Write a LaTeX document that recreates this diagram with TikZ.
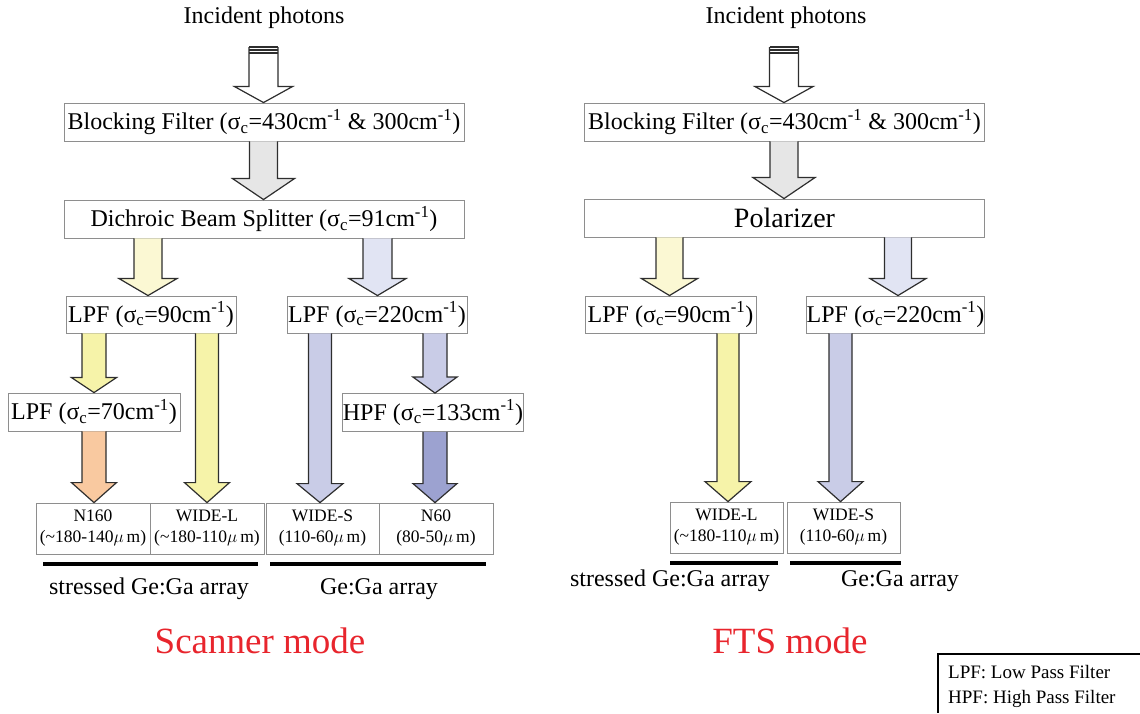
\documentclass[tikz,border=0pt]{standalone}
\usepackage{fontspec}
\setmainfont{Liberation Serif}
\usetikzlibrary{calc}
\definecolor{boxgray}{HTML}{8E8E8E}
\definecolor{arrline}{HTML}{2E2E2E}
\definecolor{grayfill}{HTML}{E6E6E6}
\definecolor{paleyel}{HTML}{FBF8D3}
\definecolor{midyel}{HTML}{F6F3A9}
\definecolor{paleblue}{HTML}{E1E4F3}
\definecolor{midblue}{HTML}{C9CCE7}
\definecolor{darkblue}{HTML}{9CA2D0}
\definecolor{orangefill}{HTML}{F9C9A0}
\definecolor{modered}{HTML}{E8252D}
\newcommand\sigc{σ\textsubscript{c}}
\newcommand\icm{cm\textsuperscript{-1}}
\newcommand\umic{$\mu$\,m}
% block arrow: style, x, from, to, half shaft, half head, head length
\newcommand\barrow[7]{\path[#1] let \p1=(#3), \p2=(#4) in
  (#2-#5,\y1) -- (#2-#5,\y2+#7) -- (#2-#6,\y2+#7) -- (#2,\y2)
  -- (#2+#6,\y2+#7) -- (#2+#5,\y2+#7) -- (#2+#5,\y1);}
\begin{document}
\begin{tikzpicture}[x=1pt,y=-1pt,
  filterbox/.style={draw=boxgray,line width=0.9pt,fill=white,inner sep=0pt,
    minimum height=38pt,font=\fontsize{24}{28}\selectfont},
  detbox/.style={draw=boxgray,line width=0.8pt,fill=white,inner sep=0pt,
    minimum height=51pt,align=center,font=\fontsize{17.5}{21}\selectfont},
  plain/.style={inner sep=0pt,font=\fontsize{24}{28}\selectfont},
  arraylabel/.style={inner sep=0pt,anchor=base,font=\fontsize{24}{28}\selectfont},
  modelabel/.style={inner sep=0pt,text=modered,font=\fontsize{37}{42}\selectfont},
  arr/.style={draw=arrline,line width=1.2pt,line join=miter},
  bar/.style={line width=3.2pt,black}]
\useasboundingbox (0,0) rectangle (1140,713);

% ---------------- Scanner mode ----------------
\node[plain] (incA) at (264,18) {Incident photons};
\node[filterbox,minimum width=400pt] (blkA) at (264,122) {Blocking Filter (\sigc=430\icm{} \& 300\icm)};
\node[filterbox,minimum width=400pt] (dich) at (264,219) {Dichroic Beam Splitter (\sigc=91\icm)};
\node[filterbox,minimum width=170pt,minimum height=37pt] (lpfA) at (151,314.5) {LPF (\sigc=90\icm)};
\node[filterbox,minimum width=180pt,minimum height=37pt] (lpfB) at (377,314.5) {LPF (\sigc=220\icm)};
\node[filterbox,minimum width=172pt] (lpfC) at (94,412) {LPF (\sigc=70\icm)};
\node[filterbox,minimum width=178pt] (hpf) at (433,412.5) {HPF (\sigc=133\icm)};
\node[detbox,minimum width=114pt] (n160) at (93,528.5) {N160\\(\textasciitilde180-140\umic)};
\node[detbox,minimum width=114pt] (widelA) at (207,528.5) {WIDE-L\\(\textasciitilde180-110\umic)};
\node[detbox,minimum width=113pt] (widesA) at (322.5,528.5) {WIDE-S\\(110-60\umic)};
\node[detbox,minimum width=114pt] (n60) at (436,528.5) {N60\\(80-50\umic)};
\coordinate (uA1) at (43,564); \coordinate (uA2) at (258,564);
\coordinate (uB1) at (270,564); \coordinate (uB2) at (486,564);
\draw[bar] (uA1) -- (uA2);
\draw[bar] (uB1) -- (uB2);
\node[arraylabel] (stressA) at (149,594) {stressed Ge:Ga array};
\node[arraylabel] (gegaA) at (379,594) {Ge:Ga array};
\node[modelabel] (scan) at (260,641) {Scanner mode};

% hollow incident arrow
\coordinate (hA) at (263.5,47);
\barrow{arr,fill=white}{263.5pt}{hA}{blkA.north}{14.5pt}{29pt}{16pt}
\draw[arrline,line width=1.1pt] (249,47) -- (278,47) (249,50) -- (278,50) (249,53) -- (278,53);
\barrow{arr,fill=grayfill}{263.5pt}{blkA.south}{dich.north}{14pt}{31pt}{21pt}
\barrow{arr,fill=paleyel}{148pt}{dich.south}{lpfA.north}{14pt}{29pt}{17pt}
\barrow{arr,fill=paleblue}{377.5pt}{dich.south}{lpfB.north}{14.5pt}{28.5pt}{17pt}
\barrow{arr,fill=midyel}{94pt}{lpfA.south}{lpfC.north}{12pt}{22.5pt}{15pt}
\barrow{arr,fill=orangefill}{94pt}{lpfC.south}{n160.north}{12pt}{22.5pt}{20pt}
\barrow{arr,fill=midyel}{207pt}{lpfA.south}{widelA.north}{11.5pt}{22.5pt}{20pt}
\barrow{arr,fill=midblue}{320pt}{lpfB.south}{widesA.north}{11.5pt}{23pt}{19pt}
\barrow{arr,fill=midblue}{435pt}{lpfB.south}{hpf.north}{12pt}{22pt}{16pt}
\barrow{arr,fill=darkblue}{435pt}{hpf.south}{n60.north}{12pt}{22pt}{19pt}

% ---------------- FTS mode ----------------
\node[plain] (incB) at (786,18) {Incident photons};
\node[filterbox,minimum width=400pt] (blkB) at (784.5,122) {Blocking Filter (\sigc=430\icm{} \& 300\icm)};
\node[filterbox,minimum width=400pt,font=\fontsize{28}{32}\selectfont] (pol) at (784.5,218) {Polarizer};
\node[filterbox,minimum width=171pt,minimum height=37pt] (lpfD) at (670.5,314.5) {LPF (\sigc=90\icm)};
\node[filterbox,minimum width=177pt,minimum height=37pt] (lpfE) at (895.5,314.5) {LPF (\sigc=220\icm)};
\node[detbox,minimum width=113pt] (widelB) at (726.5,527.5) {WIDE-L\\(\textasciitilde180-110\umic)};
\node[detbox,minimum width=113pt] (widesB) at (843.5,527.5) {WIDE-S\\(110-60\umic)};
\coordinate (uC1) at (670,563); \coordinate (uC2) at (778,563);
\coordinate (uD1) at (790,563); \coordinate (uD2) at (901,563);
\draw[bar] (uC1) -- (uC2);
\draw[bar] (uD1) -- (uD2);
\node[arraylabel] (stressB) at (670,586) {stressed Ge:Ga array};
\node[arraylabel] (gegaB) at (900,586) {Ge:Ga array};
\node[modelabel] (fts) at (790,641) {FTS mode};

\coordinate (hB) at (784,47);
\barrow{arr,fill=white}{784pt}{hB}{blkB.north}{14.5pt}{29pt}{16pt}
\draw[arrline,line width=1.1pt] (769.5,47) -- (798.5,47) (769.5,50) -- (798.5,50) (769.5,53) -- (798.5,53);
\barrow{arr,fill=grayfill}{784pt}{blkB.south}{pol.north}{14pt}{31pt}{21pt}
\barrow{arr,fill=paleyel}{669.5pt}{pol.south}{lpfD.north}{13.5pt}{28pt}{17pt}
\barrow{arr,fill=paleblue}{898pt}{pol.south}{lpfE.north}{13.5pt}{28pt}{17pt}
\barrow{arr,fill=midyel}{728pt}{lpfD.south}{widelB.north}{11pt}{23pt}{20pt}
\barrow{arr,fill=midblue}{840.5pt}{lpfE.south}{widesB.north}{11.5pt}{22.5pt}{20pt}

% ---------------- legend ----------------
\coordinate (lgA) at (1140,654); \coordinate (lgB) at (938,654); \coordinate (lgC) at (938,713);
\draw[black,line width=1.4pt] (lgA) -- (lgB) -- (lgC);
\node[inner sep=0pt,anchor=west,font=\fontsize{19}{23}\selectfont] (lg1) at (948,672) {LPF: Low Pass Filter};
\node[inner sep=0pt,anchor=west,font=\fontsize{19}{23}\selectfont] (lg2) at (948,699) {HPF: High Pass Filter};
\end{tikzpicture}
\end{document}
